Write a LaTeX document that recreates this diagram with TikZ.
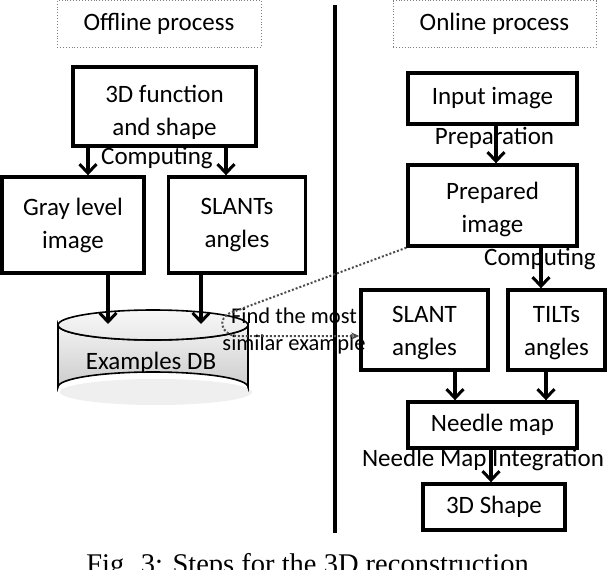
\documentclass[tikz,border=0pt]{standalone}
\usepackage{fontspec}
\setmainfont{Carlito}
\newfontfamily\capfont{Liberation Serif}
\usetikzlibrary{arrows.meta,calc}
\tikzset{
  box/.style={draw=black,line width=3.4pt,align=center,inner sep=0pt,font=\fontsize{25}{33}\selectfont},
  btxt/.style={align=center,inner sep=0pt,font=\fontsize{25}{33}\selectfont},
  headbox/.style={draw=gray,dotted,line width=0.9pt,inner sep=0pt,font=\fontsize{25}{28}\selectfont},
  lbl/.style={inner sep=0pt,font=\fontsize{25}{28}\selectfont},
  arr/.style={line width=3.2pt,-{Straight Barb[length=9pt,width=17pt,line width=3pt]}},
  dotconn/.style={draw=gray!60!black,line width=2pt,dash pattern=on 2pt off 2pt,-{Stealth[length=8pt,width=7pt]}}
}
\begin{document}
\begin{tikzpicture}[x=1pt,y=-1pt]
\useasboundingbox (0,0) rectangle (616,570);
% headers
\node[headbox,minimum width=204,minimum height=47] (offline) at (159,24) {Offline process};
\node[headbox,minimum width=203,minimum height=47] (online) at (494.5,24) {Online process};
% separator
\coordinate (vtop) at (335,5);
\coordinate (vbot) at (335,533);
\draw[line width=4.5pt] (vtop) -- (vbot);
% offline boxes
\node[box,minimum width=183,minimum height=79,label={[btxt,yshift=-6pt]center:{3D function\\and shape}}] (f3d) at (164.5,106.5) {};
\node[box,minimum width=142,minimum height=96] (gray) at (73,225) {Gray level\\image};
\node[box,minimum width=137,minimum height=96] (slants) at (237,225) {SLANTs\\angles};
% cylinder
\fill[gray!18,opacity=0.7] (156,392) ellipse (96 and 13);
\shade[top color=gray!10,bottom color=gray!40,draw=black,line width=1.6pt]
  (58,325) -- (58,387) arc (180:360:95 and 15) -- (248,325) arc (0:180:95 and 15) -- cycle;
\shade[top color=gray!6,bottom color=gray!18,draw=black,line width=1.6pt] (153,325) ellipse (95 and 15);
\node[lbl] (db) at (151,363) {Examples DB};
\coordinate (dbtop) at (153,324);
\coordinate (dbr) at (230,313);
\coordinate (dbr2) at (236,336);
% online boxes
\node[box,minimum width=169,minimum height=51] (input) at (492.5,98.5) {Input image};
\node[box,minimum width=169,minimum height=81,label={[btxt,yshift=-4pt]center:{Prepared\\image}}] (prep) at (492.5,205.5) {};
\node[box,minimum width=127,minimum height=80,label={[btxt,yshift=-3pt]center:{SLANT\\angles}}] (slant) at (424.5,330) {};
\node[box,minimum width=97,minimum height=80,label={[btxt,yshift=-3pt]center:{TILTs\\angles}}] (tilts) at (556.5,330) {};
\node[box,minimum width=169,minimum height=46] (needle) at (492.5,425) {Needle map};
\node[box,minimum width=142,minimum height=46] (shape) at (494,507) {3D Shape};
% labels
\node[lbl] (lc1) at (157,158) {Computing};
\node[lbl] (lprep) at (494.5,138) {Preparation};
\node[lbl] (lc2) at (540,259) {Computing};
\node[lbl] (lnm) at (483,460) {Needle Map Integration};
\node[lbl,align=center,font=\fontsize{22.5}{27}\selectfont] (lfind) at (294,331) {Find the most\\similar example};
% arrows
\draw[arr] (f3d.south -| 88,0) -- (gray.north -| 88,0);
\draw[arr] (f3d.south -| 226,0) -- (slants.north -| 226,0);
\draw[arr] (gray.south -| 108,0) -- (dbtop -| 108,0);
\draw[arr] (slants.south -| 201,0) -- (dbtop -| 201,0);
\draw[arr] (input.south -| 496,0) -- (prep.north -| 496,0);
\draw[arr] (prep.south -| 541,0) -- (tilts.north -| 541,0);
\draw[arr] (slant.south -| 455,0) -- (needle.north -| 455,0);
\draw[arr] (tilts.south -| 546,0) -- (needle.north -| 546,0);
\draw[arr] (needle.south -| 491,0) -- (shape.north -| 491,0);
% dotted connector
\draw[dotconn] (prep.south west) -- (dbr) .. controls (218,318) and (220,334) .. (dbr2) -- (slant.west |- dbr2);
% caption
\node[anchor=base,font=\capfont\fontsize{28.5}{32}\selectfont,inner sep=0pt] (cap) at (307.5,573) {Fig. 3: Steps for the 3D reconstruction};
\end{tikzpicture}
\end{document}
